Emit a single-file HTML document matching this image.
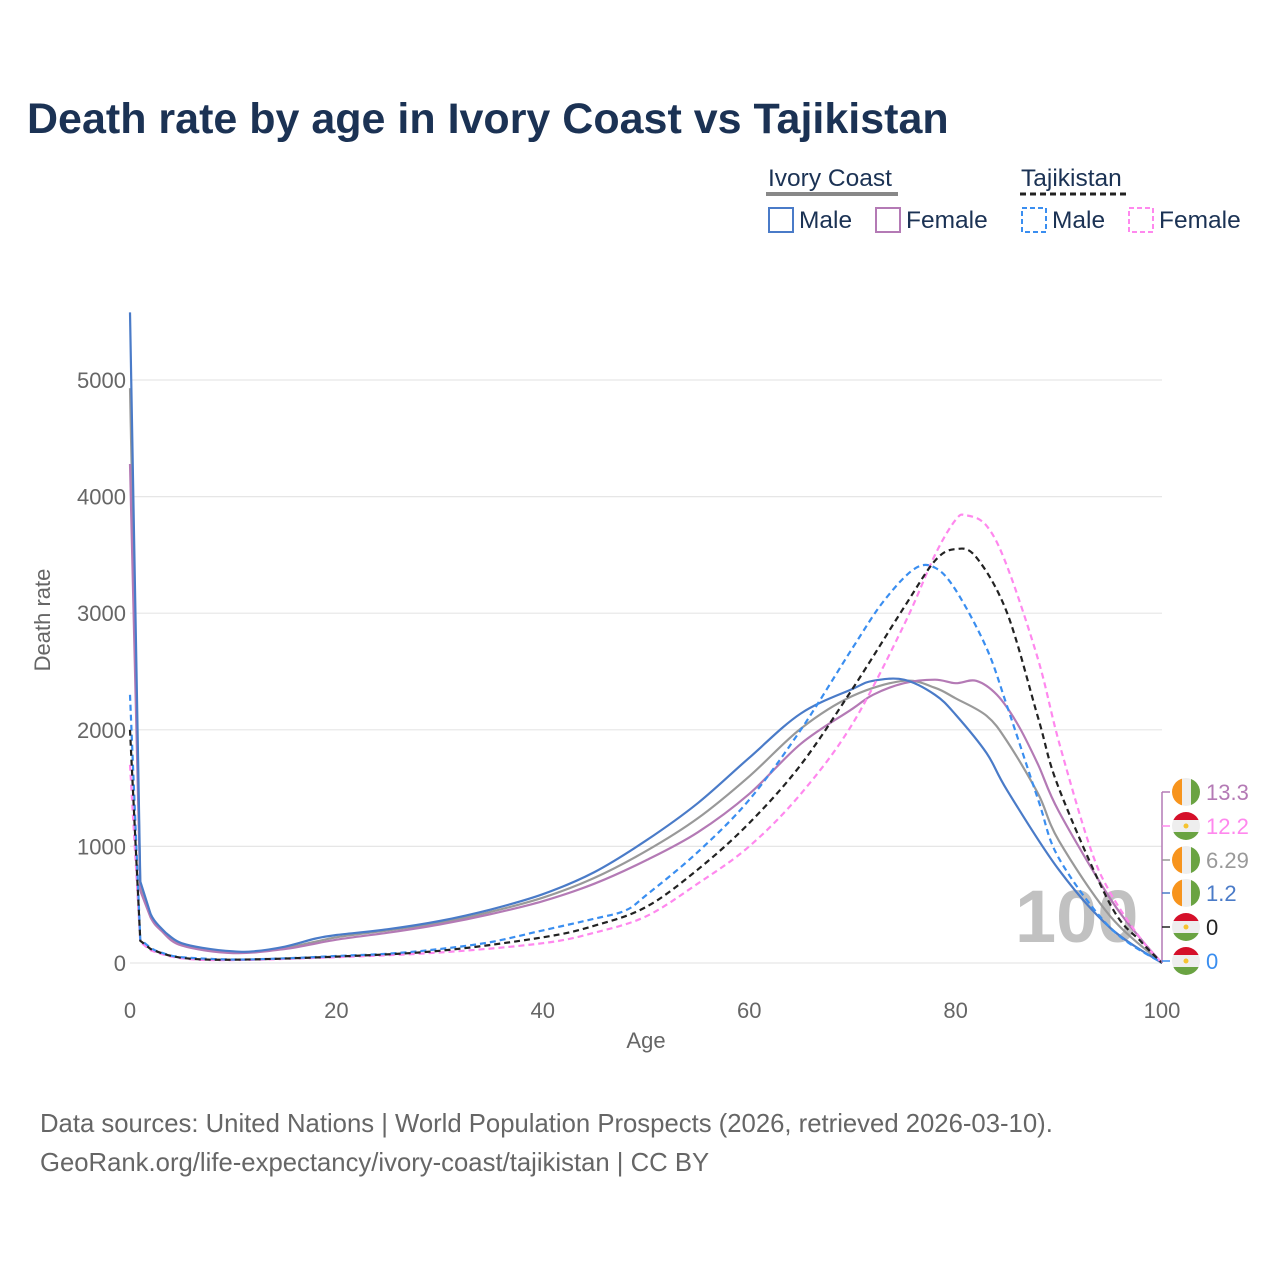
<!DOCTYPE html>
<html><head><meta charset="utf-8"><style>
body{margin:0;background:#fff;font-family:"Liberation Sans",sans-serif;}
svg text{font-family:"Liberation Sans",sans-serif;}
</style></head><body>
<svg width="1280" height="1280" xmlns="http://www.w3.org/2000/svg">
<text x="27" y="133" font-size="43" font-weight="bold" fill="#1b3254">Death rate by age in Ivory Coast vs Tajikistan</text>
<g>
<text x="768" y="186" font-size="24.5" fill="#1b3254">Ivory Coast</text>
<line x1="766" y1="194" x2="898" y2="194" stroke="#888" stroke-width="4"/>
<text x="1021" y="186" font-size="24.5" fill="#1b3254">Tajikistan</text>
<line x1="1020" y1="194" x2="1128" y2="194" stroke="#222" stroke-width="3" stroke-dasharray="6,4"/>
<rect x="769" y="208" width="24" height="24" fill="none" stroke="#4a7bc8" stroke-width="2"/>
<text x="799" y="228" font-size="24.5" fill="#1b3254">Male</text>
<rect x="876" y="208" width="24" height="24" fill="none" stroke="#b47ab5" stroke-width="2"/>
<text x="906" y="228" font-size="24.5" fill="#1b3254">Female</text>
<rect x="1022" y="208" width="24" height="24" fill="none" stroke="#3a8ef0" stroke-width="2" stroke-dasharray="5,3"/>
<text x="1052" y="228" font-size="24.5" fill="#1b3254">Male</text>
<rect x="1129" y="208" width="24" height="24" fill="none" stroke="#ff88ee" stroke-width="2" stroke-dasharray="5,3"/>
<text x="1159" y="228" font-size="24.5" fill="#1b3254">Female</text>
</g>
<g id="grid"></g>
<text x="1015" y="942" font-size="74" font-weight="bold" fill="#bbb" opacity="0.9">100</text>
<g id="series"></g>
<g id="endlabels"></g>
<text x="646" y="1048" font-size="22" fill="#666" text-anchor="middle">Age</text>
<text transform="translate(50,620) rotate(-90)" font-size="22" fill="#666" text-anchor="middle">Death rate</text>
<text x="40" y="1132" font-size="25.7" fill="#666">Data sources: United Nations | World Population Prospects (2026, retrieved 2026-03-10).</text>
<text x="40" y="1171" font-size="25.7" fill="#666">GeoRank.org/life-expectancy/ivory-coast/tajikistan | CC BY</text>
</svg>
<script>
const xTicks=[0,20,40,60,80,100];
const yTicks=[0,1000,2000,3000,4000,5000];
const icMaleAges=[0,1,2,3,4,5,7,10,12,15,18,20,25,30,35,40,45,50,55,60,65,70,72,75,78,80,83,85,90,95,100];
const icMaleVals=[5580,700,420,300,220,170,130,100,100,140,210,240,290,360,460,590,780,1050,1370,1760,2140,2350,2420,2430,2300,2130,1800,1480,800,300,0];
const icFemaleAges=[0,1,2,3,5,10,15,20,25,30,35,40,45,50,55,60,65,70,72,75,78,80,82,84,86,88,90,95,98,100];
const icFemaleVals=[4280,620,390,280,150,85,120,200,260,330,420,530,680,880,1120,1450,1880,2180,2300,2400,2430,2400,2420,2300,2050,1700,1300,550,200,0];
const icTotalAges=[0,1,2,5,10,15,20,25,30,35,40,45,50,55,60,65,70,75,78,80,83,85,88,90,95,100];
const icTotalVals=[4930,660,400,160,90,130,220,280,345,440,560,730,960,1240,1600,2010,2290,2420,2360,2270,2120,1900,1450,1050,400,0];
const tjMaleAges=[0,1,2,3,5,10,15,20,25,30,35,40,45,48,50,55,60,65,70,73,76,78,80,83,85,88,90,95,100];
const tjMaleVals=[2300,200,130,90,50,30,40,60,80,120,180,280,380,450,580,950,1400,2000,2700,3100,3380,3390,3200,2700,2200,1400,900,300,0];
const tjFemaleAges=[0,1,2,5,10,20,30,40,45,50,55,60,65,70,75,78,80,81,83,85,88,90,93,95,98,100];
const tjFemaleVals=[1700,180,110,40,25,50,90,170,260,400,680,1000,1450,2050,2900,3500,3800,3840,3750,3400,2600,1900,1000,600,200,0];
const tjTotalAges=[0,1,2,5,10,20,30,40,45,50,55,60,65,70,75,78,80,82,85,88,90,95,98,100];
const tjTotalVals=[2000,190,120,45,28,55,105,220,320,480,800,1200,1700,2350,3050,3450,3550,3480,3000,2100,1500,500,180,0];
const endNames=["13.3","12.2","6.29","1.2","0","0"];

const NS="http://www.w3.org/2000/svg";
const X=a=>130+a*(1162-130)/100;
const Y=v=>963-v*(963-380)/5000;
function mk(t,at,p){const e=document.createElementNS(NS,t);for(const k in at)e.setAttribute(k,at[k]);p.appendChild(e);return e;}
const grid=document.getElementById('grid');
yTicks.forEach(v=>{
 const l=mk('line',{x1:130,x2:1162,y1:Y(v),y2:Y(v),stroke:'#e6e6e6','stroke-width':1.2},grid);
 
 
 const t=mk('text',{x:126,y:Y(v)+8,'font-size':22,fill:'#666','text-anchor':'end'},grid);
 t.textContent=v;
 
 
});
xTicks.forEach(v=>{
 const t=mk('text',{x:X(v),y:1018,'font-size':22,fill:'#666','text-anchor':'middle'},grid);
 t.textContent=v;
 
 
});
const series=document.getElementById('series');
function draw(ages,vals,color,dash,name){
 const P=ages.map((a,i)=>[X(a),Y(vals[i])]);
 let d='M'+P[0][0].toFixed(1)+','+P[0][1].toFixed(1);
 for(let i=0;i<P.length-1;i++){
  const p0=P[i-1]||P[i],p1=P[i],p2=P[i+1],p3=P[i+2]||p2;
  const k=(i<2)?0:1/6;
  const c1=[p1[0]+(p2[0]-p0[0])*k,p1[1]+(p2[1]-p0[1])*k];
  const c2=[p2[0]-(p3[0]-p1[0])*k,p2[1]-(p3[1]-p1[1])*k];
  d+=' C'+c1.map(v=>v.toFixed(1)).join(',')+' '+c2.map(v=>v.toFixed(1)).join(',')+' '+p2[0].toFixed(1)+','+p2[1].toFixed(1);
 }
 const p=mk('path',{d:d,fill:'none',stroke:color,'stroke-width':2.2,'stroke-linejoin':'round'},series);
 if(dash)p.setAttribute('stroke-dasharray','6,4');
 
 
}
draw(icTotalAges,icTotalVals,'#999',null,'line-ivory-coast-total');
draw(icFemaleAges,icFemaleVals,'#b47ab5',null,'line-ivory-coast-female');
draw(icMaleAges,icMaleVals,'#4a7bc8',null,'line-ivory-coast-male');
draw(tjFemaleAges,tjFemaleVals,'#ff88ee',true,'line-tajikistan-female');
draw(tjMaleAges,tjMaleVals,'#3a8ef0',true,'line-tajikistan-male');
draw(tjTotalAges,tjTotalVals,'#222',true,'line-tajikistan-total');

const el=document.getElementById('endlabels');
const cols=['#b47ab5','#ff88ee','#999','#4a7bc8','#222','#3a8ef0'];
const flags=['ci','tj','ci','ci','tj','tj'];
const ys=[792,826,860,893,927,961];
mk('line',{x1:1162,x2:1162,y1:792,y2:963,stroke:'#b47ab5','stroke-width':1.5},el);
ys.forEach((y,i)=>{
 mk('line',{x1:1162,x2:1170,y1:y,y2:y,stroke:cols[i],'stroke-width':1.5},el);
 const g=mk('g',{},el);
 
 
 const cx=1186,r=14;
 const clipId='c'+i;
 const cp=mk('clipPath',{id:clipId},g);mk('circle',{cx:cx,cy:y,r:r},cp);
 const gg=mk('g',{'clip-path':'url(#'+clipId+')'},g);
 if(flags[i]=='ci'){
  mk('rect',{x:cx-r,y:y-r,width:10,height:28,fill:'#f7941d'},gg);
  mk('rect',{x:cx-r+10,y:y-r,width:9,height:28,fill:'#eee'},gg);
  mk('rect',{x:cx-r+19,y:y-r,width:10,height:28,fill:'#6aa342'},gg);
 }else{
  mk('rect',{x:cx-r,y:y-r,width:28,height:8,fill:'#d5102a'},gg);
  mk('rect',{x:cx-r,y:y-r+8,width:28,height:12,fill:'#eee'},gg);
  mk('rect',{x:cx-r,y:y-r+20,width:28,height:8,fill:'#6aa342'},gg);
  mk('circle',{cx:cx,cy:y,r:2.5,fill:'#f5c330'},gg);
 }
 const t=mk('text',{x:1206,y:y+8,'font-size':22,fill:cols[i]},el);
 t.textContent=endNames[i];
 
 
});
</script>
</body></html>
